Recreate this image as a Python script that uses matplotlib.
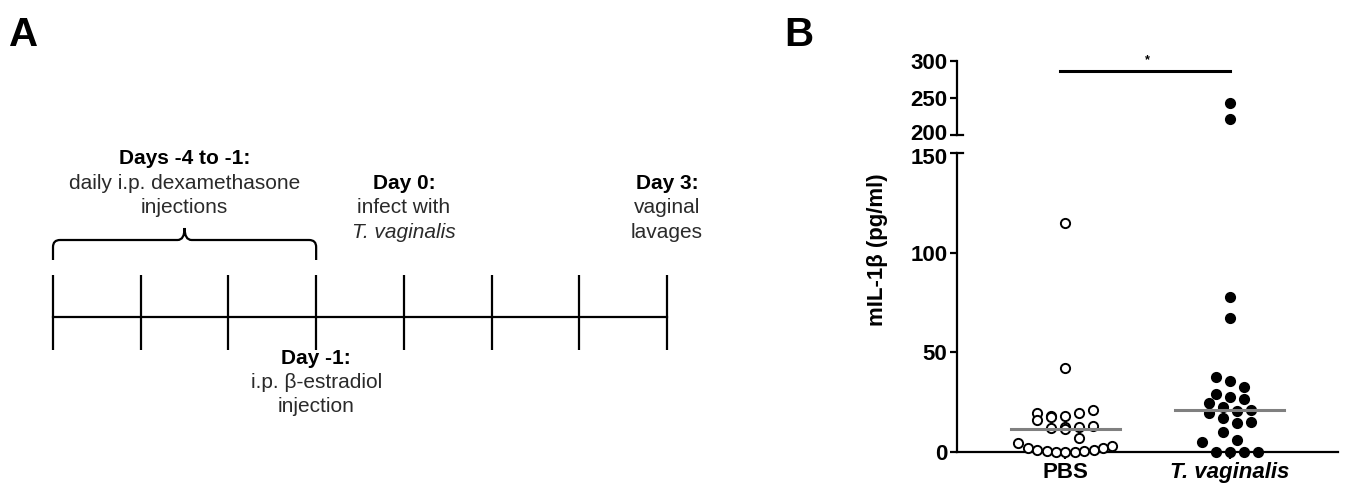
import numpy as np
import matplotlib
matplotlib.use('Agg')
import matplotlib.pyplot as plt
from matplotlib.path import Path
from matplotlib.patches import PathPatch
from matplotlib.transforms import ScaledTranslation
from matplotlib import rcParams

rcParams['font.family'] = ['Liberation Sans', 'DejaVu Sans']
rcParams['font.size'] = 15

#### Datos ####
# panel A: timeline (days)
days = [-4, -3, -2, -1, 0, 1, 2, 3]
dex_days = (-4, -1)
# panel B: mIL-1b (pg/ml)
groups = ['PBS', 'T. vaginalis']
pbs = [115, 42, 19.5, 16, 18, 17.5, 18, 19.5, 21, 12.5, 12, 11.5, 12.5, 13,
       7, 4.5, 2, 1, 0.5, 0, 0, 0, 0.5, 1, 2, 3]
tvag = [243, 222, 78, 67, 37.5, 35.5, 32.5, 29, 27.5, 26.5, 24.5, 22.5, 20.5,
        19.5, 21, 17, 14.5, 15, 10, 5, 6, 0, 0, 0, 0]
lo_ticks = [0, 50, 100, 150]
hi_ticks = [200, 250, 300]

W, H = 1347, 494
fig = plt.figure(figsize=(W/100, H/100), dpi=100)
txt = '#2a2a2a'

### Panel A ###
axA = fig.add_axes([53/W, 0, 614/W, 1])
axA.set_xlim(days[0], days[-1])
axA.set_ylim(H, 0)
axA.axis('off')
axA.plot([days[0], days[-1]], [317, 317], color='k', lw=1.6, clip_on=False)
axA.vlines(days, 275, 350, color='k', lw=1.6, clip_on=False)

# llave sobre los dias de dexametasona
a, b = dex_days
m = (a + b) / 2
r = 0.08
verts = [(a, 260), (a, 247), (a, 240), (a + r, 240), (m - r, 240), (m, 240), (m, 228),
         (m, 240), (m + r, 240), (b - r, 240), (b, 240), (b, 247), (b, 260)]
codes = [Path.MOVETO, Path.LINETO, Path.CURVE3, Path.CURVE3, Path.LINETO, Path.CURVE3, Path.CURVE3,
         Path.CURVE3, Path.CURVE3, Path.LINETO, Path.CURVE3, Path.CURVE3, Path.LINETO]
axA.add_patch(PathPatch(Path(verts, codes), fc='none', ec='k', lw=1.6, clip_on=False))

axA.text(m, 158, 'Days -4 to -1:', ha='center', va='center', fontweight='bold', color='k')
axA.text(m, 183, 'daily i.p. dexamethasone', ha='center', va='center', color=txt)
axA.text(m, 207, 'injections', ha='center', va='center', color=txt)
axA.text(0, 183, 'Day 0:', ha='center', va='center', fontweight='bold', color='k')
axA.text(0, 207, 'infect with', ha='center', va='center', color=txt)
axA.text(0, 232, 'T. vaginalis', ha='center', va='center', color=txt, style='italic')
axA.text(3, 183, 'Day 3:', ha='center', va='center', fontweight='bold', color='k')
axA.text(3, 207, 'vaginal', ha='center', va='center', color=txt)
axA.text(3, 232, 'lavages', ha='center', va='center', color=txt)
axA.text(-1, 358, 'Day -1:', ha='center', va='center', fontweight='bold', color='k')
axA.text(-1, 382, 'i.p. β-estradiol', ha='center', va='center', color=txt)
axA.text(-1, 406, 'injection', ha='center', va='center', color=txt)

fig.text(9/W, 1 - 46/H, 'A', fontsize=29, fontweight='bold', va='baseline')
fig.text(784/W, 1 - 46/H, 'B', fontsize=29, fontweight='bold', va='baseline')

### Panel B ###
left, right = 957/W, (1338 - 957)/W
ax_lo = fig.add_axes([left, 1 - 452/H, right, (452 - 153)/H])
ax_hi = fig.add_axes([left, 1 - 135/H, right, (135 - 61)/H])
xpos = [1, 2]
for ax in (ax_lo, ax_hi):
    ax.set_xlim(0.34, 2.66)
    for s in ['top', 'right']:
        ax.spines[s].set_visible(False)
    for s in ax.spines.values():
        s.set_linewidth(1.6)
    ax.tick_params(axis='both', direction='out', length=5, width=1.6, labelsize=16, pad=2)
ax_lo.set_ylim(0, 150)
ax_lo.set_yticks(lo_ticks)
ax_lo.set_xticks(xpos)
ax_lo.set_xticklabels(groups, fontweight='bold', fontsize=16)
ax_lo.get_xticklabels()[1].set_style('italic')
ax_hi.set_ylim(200, 300)
ax_hi.set_yticks(hi_ticks)
ax_hi.set_xticks([])
ax_hi.spines['bottom'].set_visible(False)
for ax in (ax_lo, ax_hi):
    for lab in ax.get_yticklabels():
        lab.set_fontweight('bold')
# separar un poco 150 y 200 (como en el original)
lab = ax_lo.get_yticklabels()[-1]
lab.set_transform(lab.get_transform() + ScaledTranslation(0, -3/100, fig.dpi_scale_trans))
lab = ax_hi.get_yticklabels()[0]
lab.set_transform(lab.get_transform() + ScaledTranslation(0, 3/100, fig.dpi_scale_trans))
# marcas del corte del eje
ax_lo.plot([0, 0.016], [1, 1], transform=ax_lo.transAxes, color='k', lw=1.6, clip_on=False)
ax_hi.plot([0, 0.016], [0, 0], transform=ax_hi.transAxes, color='k', lw=1.6, clip_on=False)

fig.text(877/W, 1 - 250/H, 'mIL-1β (pg/ml)', rotation=90, ha='center', va='center',
         fontweight='bold', fontsize=16)


def row_x(ax, x0, vals, binh=10.0, step=14.0, maxw=94.0):
    # estilo Prism: puntos cercanos en filas horizontales centradas
    vals = np.asarray(vals, float)
    py = ax.transData.transform(np.column_stack([np.full(len(vals), x0), vals]))[:, 1]
    px0 = ax.transData.transform((x0, 0))[0]
    order = np.argsort(vals, kind='stable')
    rows, cur = [], [order[0]]
    for i in order[1:]:
        if py[i] - py[cur[0]] <= binh:
            cur.append(i)
        else:
            rows.append(cur)
            cur = [i]
    rows.append(cur)
    out = np.zeros(len(vals))
    for row in rows:
        row = sorted(row)
        n = len(row)
        d = step if n < 2 else min(step, maxw / (n - 1))
        for j, i in enumerate(row):
            cx = px0 + (j - (n - 1) / 2) * d
            out[i] = ax.transData.inverted().transform((cx, py[i]))[0]
    return out


for k, (vals, filled) in enumerate([(pbs, False), (tvag, True)]):
    vals = np.asarray(vals, float)
    x0 = xpos[k]
    for ax, sel in ((ax_lo, vals <= 175), (ax_hi, vals > 175)):
        v = vals[sel]
        if len(v) == 0:
            continue
        xs = row_x(ax, x0, v)
        ax.scatter(xs, v, s=44, facecolor='k' if filled else 'white', edgecolor='k',
                   linewidth=1.4, zorder=3, clip_on=False)
    med = np.median(vals)
    ax_lo.plot([x0 - 0.33, x0 + 0.33], [med, med], color='#808080', lw=2.2, zorder=4)

# barra de significancia
ax_hi.plot([0.97, 2.0], [286.5, 286.5], color='k', lw=2.2, clip_on=False)
ax_hi.text(1.5, 293, '*', ha='center', va='bottom', fontsize=9, fontweight='bold')

fig.savefig('out.png', dpi=100)
